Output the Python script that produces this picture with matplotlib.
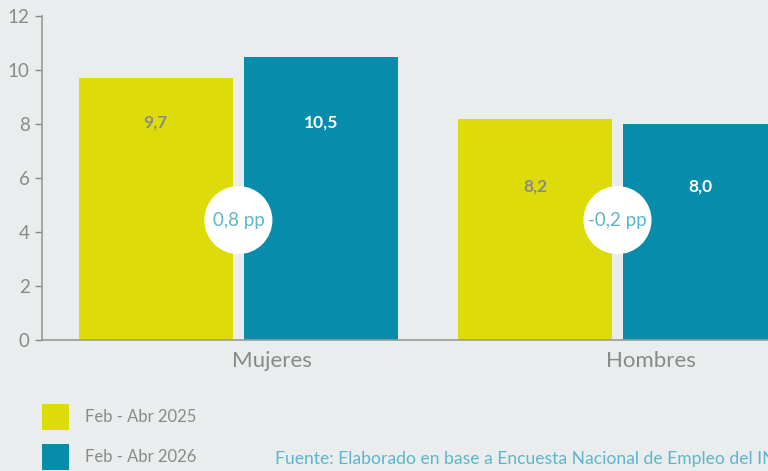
import numpy as np
import matplotlib.pyplot as plt
from matplotlib.patches import Rectangle

plt.rcParams['font.family'] = ['Lato', 'DejaVu Sans']

categorias = ['Mujeres', 'Hombres']
periodos = ['Feb - Abr 2025', 'Feb - Abr 2026']
valores_2025 = [9.7, 8.2]
valores_2026 = [10.5, 8.0]
fuente = 'Fuente: Elaborado en base a Encuesta Nacional de Empleo del INE'

bg = '#e9edee'
amarillo = '#dddc0a'
azul = '#088cac'
gris = '#8a8a8a'
celeste = '#5db6c9'

def fmt(v):
    return f'{v:.1f}'.replace('.', ',')

fig = plt.figure(figsize=(7.68, 4.71), dpi=100, facecolor=bg)
ax = fig.add_axes([42/768, 1 - 340/471, 1 - 42/768, 324/471])
ax.set_facecolor(bg)

x = np.arange(len(categorias))
w = 0.406
off = 0.2177
ax.bar(x - off, valores_2025, w, color=amarillo, zorder=2)
ax.bar(x + off, valores_2026, w, color=azul, zorder=2)

ax.set_xlim(-0.518, 1.397)
ax.set_ylim(0, 12)
ax.set_yticks(range(0, 13, 2))
ax.tick_params(axis='y', colors=gris, labelsize=13.5, length=5, width=1, pad=4)
ax.tick_params(axis='x', length=0, colors=gris, labelsize=16, pad=8)
ax.set_xticks(x + 0.088)
ax.set_xticklabels(categorias)
for s in ['top', 'right']:
    ax.spines[s].set_visible(False)
for s in ['left', 'bottom']:
    ax.spines[s].set_color('#999999')
    ax.spines[s].set_linewidth(1.2)

# etiquetas de valores
label_y = [8.05, 5.7]
for i in range(len(categorias)):
    ax.text(x[i] - off, label_y[i], fmt(valores_2025[i]), ha='center', va='center',
            color=gris, fontsize=12.5, fontweight='bold', zorder=3)
    ax.text(x[i] + off, label_y[i], fmt(valores_2026[i]), ha='center', va='center',
            color='white', fontsize=12.5, fontweight='bold', zorder=3)

# circulos con diferencia
dif = [b - a for a, b in zip(valores_2025, valores_2026)]
ax.scatter(x, [4.44] * len(x), s=49**2, color='white', edgecolors='none', zorder=4, clip_on=False)
for i in range(len(categorias)):
    ax.text(x[i], 4.44, fmt(dif[i]) + ' pp', ha='center', va='center', color=celeste,
            fontsize=13.5, zorder=5)

# leyenda
for j, (lab, col) in enumerate(zip(periodos, [amarillo, azul])):
    y0 = 1 - (430 + 40 * j) / 471
    fig.patches.append(Rectangle((42/768, y0), 27/768, 26/471, transform=fig.transFigure,
                                 facecolor=col, edgecolor='none'))
    fig.text(85/768, 1 - (417 + 40 * j) / 471, lab, ha='left', va='center',
             color=gris, fontsize=12)

fig.text(275/768, 1 - 459/471, fuente, ha='left', va='center', color=celeste, fontsize=12.6)

fig.savefig('out.png', dpi=100, facecolor=bg)
